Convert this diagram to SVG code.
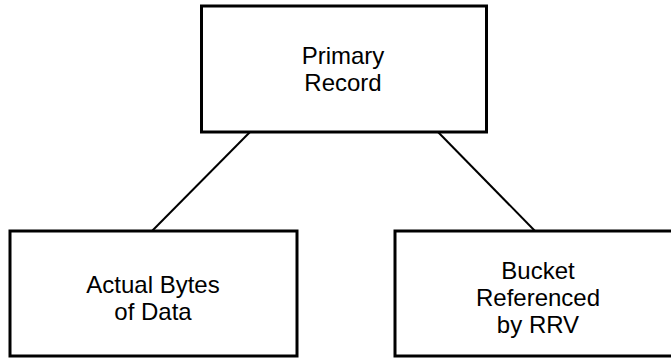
<svg xmlns="http://www.w3.org/2000/svg" width="671" height="358" viewBox="0 0 671 358">
<style>
.box{fill:#fff;stroke:#000;stroke-width:3}
.lbl{font-family:"Liberation Sans",Arial,sans-serif;font-size:24px;fill:#000;text-anchor:middle}
.conn{stroke:#000;stroke-width:2;fill:none}
</style>
<rect width="671" height="358" fill="#fff"/>
<g id="connectors">
<line class="conn" x1="250" y1="132" x2="152" y2="231"/>
<line class="conn" x1="438" y1="132" x2="535" y2="231"/>
</g>
<g id="primary">
<rect class="box" x="201.5" y="6" width="285" height="126"/>
<text class="lbl" x="343" y="64">Primary</text>
<text class="lbl" x="343" y="91">Record</text>
</g>
<g id="actual">
<rect class="box" x="10" y="231" width="287" height="125"/>
<text class="lbl" x="153" y="293">Actual Bytes</text>
<text class="lbl" x="153" y="320">of Data</text>
</g>
<g id="bucket">
<rect class="box" x="395" y="231" width="290" height="125"/>
<text class="lbl" x="538" y="279">Bucket</text>
<text class="lbl" x="538" y="306">Referenced</text>
<text class="lbl" x="538" y="333">by RRV</text>
</g>
</svg>
